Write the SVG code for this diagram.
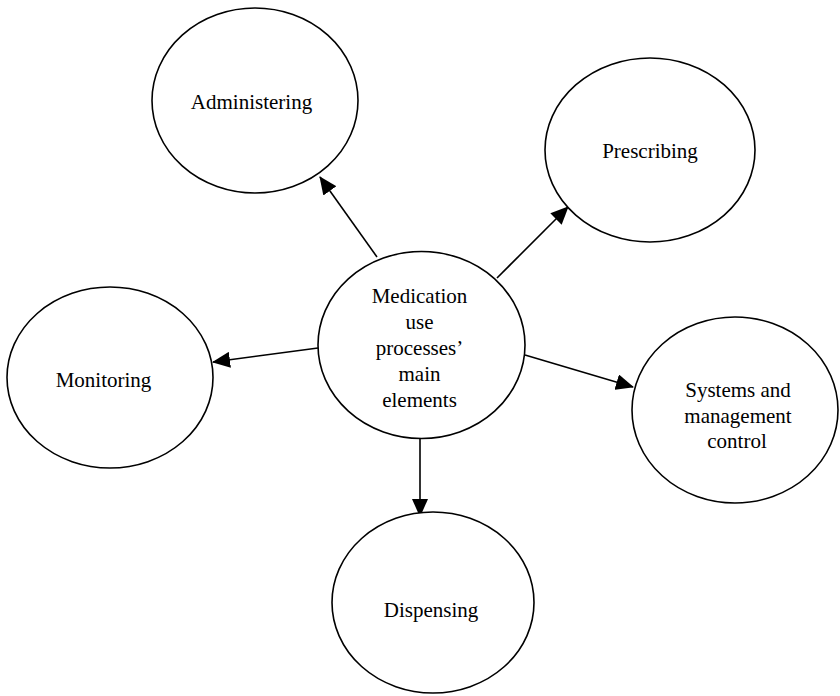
<svg xmlns="http://www.w3.org/2000/svg" width="840" height="696" viewBox="0 0 840 696">
  <style>
    .node ellipse { fill: #ffffff; stroke: #000000; stroke-width: 1.6; }
    .node text { font-family: "Liberation Serif", "Times New Roman", serif; font-size: 21px; fill: #000000; text-anchor: middle; }
    .edges line { stroke: #000000; stroke-width: 1.6; marker-end: url(#arrow); }
  </style>
  <defs>
    <marker id="arrow" viewBox="0 0 18 16" refX="17" refY="8" markerWidth="18" markerHeight="16" markerUnits="userSpaceOnUse" orient="auto">
      <path d="M0,0 L18,8 L0,16 z" fill="#000000"/>
    </marker>
  </defs>

  <rect width="840" height="696" fill="#ffffff"/>

  <!-- connectors from the central element to each process element -->
  <g id="edges" class="edges">
    <line x1="377" y1="257" x2="320" y2="177"/>
    <line x1="497" y1="278" x2="568" y2="207"/>
    <line x1="318" y1="348" x2="213" y2="362"/>
    <line x1="525" y1="355" x2="633" y2="387"/>
    <line x1="420" y1="438" x2="420" y2="516"/>
  </g>

  <g id="node-administering" class="node">
    <ellipse cx="255" cy="100.5" rx="103" ry="92.5"/>
    <text x="251.5" y="109">Administering</text>
  </g>

  <g id="node-prescribing" class="node">
    <ellipse cx="650" cy="150" rx="105" ry="92"/>
    <text x="650" y="158">Prescribing</text>
  </g>

  <g id="node-monitoring" class="node">
    <ellipse cx="110" cy="377.5" rx="103" ry="90.5"/>
    <text x="103.5" y="387">Monitoring</text>
  </g>

  <g id="node-center" class="node">
    <ellipse cx="421.5" cy="345" rx="103.5" ry="93.5"/>
    <text x="419.5" y="303">Medication</text>
    <text x="419.5" y="329">use</text>
    <text x="419.5" y="355">processes’</text>
    <text x="419.5" y="381">main</text>
    <text x="419.5" y="407">elements</text>
  </g>

  <g id="node-systems" class="node">
    <ellipse cx="735" cy="410" rx="103" ry="93"/>
    <text x="738" y="397">Systems and</text>
    <text x="738" y="423">management</text>
    <text x="737" y="448">control</text>
  </g>

  <g id="node-dispensing" class="node">
    <ellipse cx="433" cy="602.5" rx="101" ry="90.5"/>
    <text x="431" y="617">Dispensing</text>
  </g>
</svg>
